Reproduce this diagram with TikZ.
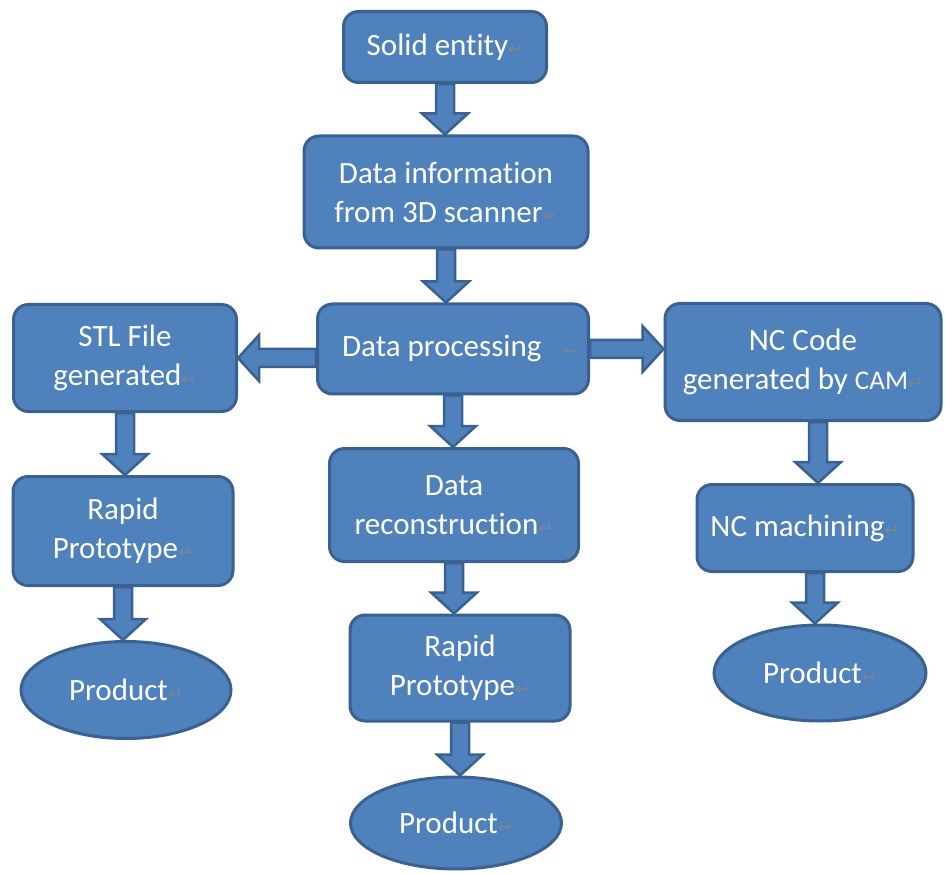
\documentclass[tikz,border=0pt]{standalone}
\usepackage{fontspec}
\setmainfont{Carlito}[Ligatures=NoCommon]
\newfontfamily\markfont{DejaVu Sans}
\usetikzlibrary{shapes,calc}

\definecolor{boxfill}{HTML}{4F81BD}
\definecolor{boxline}{HTML}{3A6190}
\definecolor{markgray}{HTML}{7D8590}

% paragraph marks after the labels
\newcommand{\pmark}{{\markfont\fontsize{18}{18}\selectfont\color{markgray}↵}}
\newcommand{\lmark}{{\markfont\fontsize{16}{16}\selectfont\color{markgray}←}}
% block arrow sizes
\newcommand{\shaftw}{9pt}
\newcommand{\headw}{23pt}
\newcommand{\headl}{21pt}

\tikzset{
  box/.style 2 args={draw=boxline, fill=boxfill, line width=3pt, rounded corners=15pt,
    text=white, align=center, inner sep=0pt, font=\fontsize{31}{39}\selectfont,
    minimum width=#1, minimum height=#2},
  prod/.style 2 args={ellipse, draw=boxline, fill=boxfill, line width=3pt,
    text=white, inner sep=0pt, font=\fontsize{31}{39}\selectfont,
    minimum width=#1, minimum height=#2},
  fat arrow/.style={draw=boxline, fill=boxfill, line width=2.5pt, line join=miter,
    to path={let \p1=(\tikztostart), \p2=(\tikztotarget), \p3=($(\p2)!\headl!(\p1)$) in
      ($(\p1)!\shaftw!90:(\p2)$) -- ($(\p3)!\shaftw!-90:(\p1)$) -- ($(\p3)!\headw!-90:(\p1)$)
      -- (\p2) -- ($(\p3)!\headw!90:(\p1)$) -- ($(\p3)!\shaftw!90:(\p1)$)
      -- ($(\p1)!\shaftw!-90:(\p2)$) -- cycle}}
}

\begin{document}
\begin{tikzpicture}[x=1pt,y=1pt]
	\useasboundingbox (0,0) rectangle (945,-874);
	% middle column
	\node[box={203pt}{71pt}] (solid) at (445,-47) {Solid entity\pmark};
	\node[box={284pt}{112pt}] (info) at (446,-192) {Data information\\from 3D scanner\pmark};
	\node[box={271pt}{90pt}] (proc) at (453,-349) {\hspace{12pt}Data processing \ \ \lmark};
	\node[box={249pt}{113pt}] (recon) at (454,-505) {Data\\reconstruction\pmark};
	\node[box={220pt}{106pt}] (rp2) at (460,-668) {Rapid\\Prototype\pmark};
	\node[prod={211pt}{92pt}] (prod2) at (456,-823) {Product\pmark};
	% left column
	\node[box={223pt}{107pt}] (stl) at (125,-358) {STL File\\generated\pmark};
	\node[box={220pt}{109pt}] (rp1) at (123,-531) {Rapid\\Prototype\pmark};
	\node[prod={210pt}{97pt}] (prod1) at (126,-690) {Product\pmark};
	% right column
	\node[box={276pt}{117pt}] (nccode) at (803,-362) {NC Code\\generated by {\fontsize{27}{39}\selectfont CAM}\pmark};
	\node[box={216pt}{87pt}] (ncm) at (805,-528) {NC machining\pmark};
	\node[prod={212pt}{96pt}] (prod3) at (820,-673) {Product\pmark};

	\foreach \a/\b in {solid/info, info/proc, proc/recon, recon/rp2, rp2/prod2, stl/rp1, rp1/prod1}
		\draw[fat arrow] (\a.south) to (\a.south |- \b.north);
	\coordinate (camout) at ([xshift=15pt]nccode.south);
	\coordinate (ncmout) at ([xshift=10pt]ncm.south);
	\draw[fat arrow] (camout) to (camout |- ncm.north);
	\draw[fat arrow] (ncmout) to (ncmout |- prod3.north);
	\draw[fat arrow] (proc.west |- stl.east) to (stl.east);
	\draw[fat arrow] (proc.east) to (proc.east -| nccode.west);
\end{tikzpicture}
\end{document}
